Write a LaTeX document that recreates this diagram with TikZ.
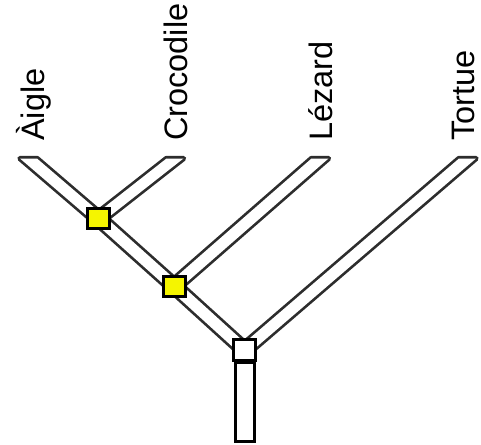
\documentclass[tikz,border=0pt]{standalone}
\usepackage{fontspec}
\setmainfont{Liberation Sans}
\usetikzlibrary{calc}
\definecolor{tubeline}{RGB}{45,45,45}
\definecolor{nodeyellow}{RGB}{245,245,0}
\newcommand\tubepoly[2]{($(#1)+(-8.5,0)$) -- ($(#1)+(8.5,0)$) -- ($(#2)+(8.5,0)$) -- ($(#2)+(-8.5,0)$) -- cycle}
\begin{document}
\begin{tikzpicture}[x=1pt,y=-1pt,
  tubeout/.style={draw=tubeline, line width=5.4pt, line join=round},
  tubein/.style={fill=white},
  joint/.style={draw=black, line width=3pt, fill=nodeyellow, minimum width=22pt, minimum height=20pt, inner sep=0pt, outer sep=0pt},
  rootbox/.style={draw=black, line width=3pt, fill=white, minimum width=22.5pt, minimum height=21pt, inner sep=0pt, outer sep=0pt},
  stembox/.style={draw=black, line width=3pt, fill=white},
  leaf/.style={rotate=90, anchor=base west, inner sep=0pt, font=\fontsize{32.5}{33}\selectfont}]
\useasboundingbox (0,0) rectangle (481,444);
% tips and joints
\coordinate (tA) at (28.5,158.5);
\coordinate (tC) at (175,158.5);
\coordinate (tL) at (320,158.5);
\coordinate (tT) at (467.5,158.5);
\coordinate (j1) at (98.5,218.5);
\coordinate (j2) at (174,286);
\coordinate (j0) at (244.5,350);
% tubes: outline pass then interior pass
\foreach \a/\b in {tA/j1, tC/j1, j1/j2, tL/j2, j2/j0, tT/j0}
  \draw[tubeout] \tubepoly{\a}{\b};
\foreach \a/\b in {tA/j1, tC/j1, j1/j2, tL/j2, j2/j0, tT/j0}
  \fill[tubein] \tubepoly{\a}{\b};
% stem
\draw[stembox] (235.5,362) rectangle (254.5,441.5);
% squares
\node[rootbox] (root) at (j0) {};
\node[joint] (n1) at (j1) {};
\node[joint] (n2) at (j2) {};
% labels
\node[leaf] (lA) at (44,141) {Àigle};
\node[leaf] (lC) at (187,141) {Crocodile};
\node[leaf] (lL) at (332,141) {Lézard};
\node[leaf] (lT) at (474,141) {Tortue};
\end{tikzpicture}
\end{document}
